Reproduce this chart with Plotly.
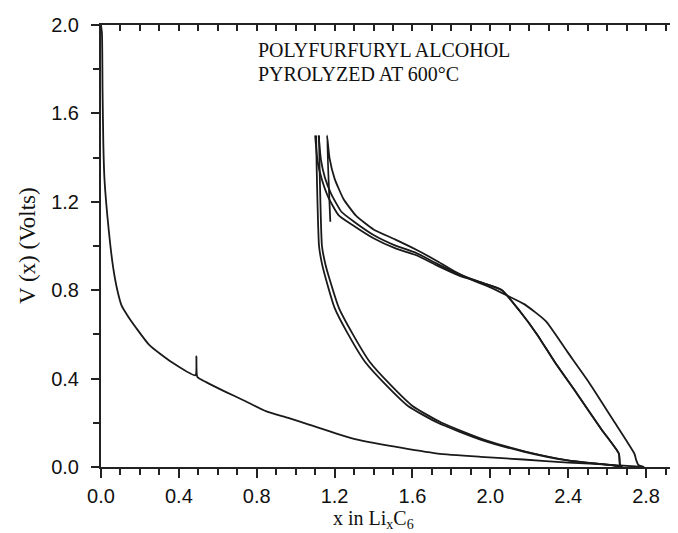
import plotly.graph_objects as go

# ---- data ----
d1_x = [0.0, 0.005, 0.008, 0.012, 0.018, 0.04, 0.062, 0.084, 0.106, 0.14, 0.18, 0.25, 0.36, 0.485,
        0.49, 0.495, 0.54, 0.64, 0.737, 0.847, 0.958, 1.068, 1.29, 1.51, 1.73, 1.95, 2.17, 2.4, 2.62, 2.79]
d1_v = [2.0, 1.96, 1.7, 1.46, 1.3, 1.07, 0.906, 0.8, 0.73, 0.68, 0.63, 0.55, 0.476, 0.415,
        0.5, 0.407, 0.384, 0.34, 0.30, 0.253, 0.223, 0.192, 0.13, 0.092, 0.061, 0.046, 0.034, 0.02, 0.01, 0.0]

c1_x = [2.79, 2.76, 2.75, 2.74, 2.64, 2.506, 2.395, 2.285, 2.174, 2.086, 1.997, 1.909, 1.82, 1.73,
        1.62, 1.51, 1.40, 1.31, 1.245, 1.20, 1.174, 1.161, 1.178]
c1_v = [0.0, 0.01, 0.03, 0.06, 0.2, 0.384, 0.522, 0.66, 0.737, 0.776, 0.814, 0.845, 0.883, 0.93,
        0.983, 1.03, 1.075, 1.137, 1.214, 1.305, 1.398, 1.5, 1.11]

d2_x = [1.105, 1.108, 1.112, 1.12, 1.135, 1.157, 1.2, 1.27, 1.356, 1.466, 1.577, 1.73, 1.953, 2.174,
        2.395, 2.62, 2.68]
d2_v = [1.5, 1.35, 1.2, 1.0, 0.92, 0.845, 0.72, 0.6, 0.476, 0.369, 0.276, 0.2, 0.123, 0.069,
        0.03, 0.008, 0.0]

c2_x = [2.67, 2.665, 2.66, 2.572, 2.44, 2.33, 2.24, 2.15, 2.06, 1.97, 1.84, 1.73, 1.62, 1.51, 1.40,
        1.29, 1.22, 1.168, 1.135, 1.113, 1.10]
c2_v = [0.0, 0.015, 0.061, 0.169, 0.338, 0.476, 0.6, 0.707, 0.8, 0.83, 0.866, 0.91, 0.958, 0.99, 1.035,
        1.096, 1.14, 1.22, 1.30, 1.38, 1.5]

d3_x = [1.12, 1.123, 1.127, 1.135, 1.152, 1.176, 1.222, 1.294, 1.38, 1.49, 1.60, 1.75, 1.97, 2.185,
        2.40, 2.62, 2.67]
d3_v = [1.5, 1.35, 1.2, 1.0, 0.92, 0.845, 0.72, 0.6, 0.476, 0.369, 0.276, 0.2, 0.123, 0.069,
        0.03, 0.008, 0.0]

c3_x = [2.67, 2.665, 2.66, 2.572, 2.44, 2.33, 2.24, 2.15, 2.06, 1.97, 1.84, 1.73, 1.62, 1.51, 1.40,
        1.30, 1.235, 1.183, 1.15, 1.13, 1.118]
c3_v = [0.0, 0.015, 0.061, 0.169, 0.338, 0.476, 0.6, 0.707, 0.8, 0.83, 0.872, 0.918, 0.968, 1.003, 1.05,
        1.11, 1.155, 1.235, 1.31, 1.39, 1.5]

x_ticks = [0.0, 0.4, 0.8, 1.2, 1.6, 2.0, 2.4, 2.8]
x_ticktext = ["0.0", "0.4", "0.8", "1.2", "1.6", "2.0", "2.4", "2.8"]
y_ticks = [0.0, 0.4, 0.8, 1.2, 1.6, 2.0]
y_ticktext = ["0.0", "0.4", "0.8", "1.2", "1.6", "2.0"]

series = [(d1_x, d1_v), (c1_x, c1_v), (d2_x, d2_v), (c2_x, c2_v), (d3_x, d3_v), (c3_x, c3_v)]

fig = go.Figure()
for xs, vs in series:
    fig.add_trace(go.Scatter(x=xs, y=vs, mode="lines",
                             line=dict(color="#1a1a1a", width=1.8, shape="spline", smoothing=0.5),
                             showlegend=False, hoverinfo="skip"))
# dummy trace to materialize mirror axes
fig.add_trace(go.Scatter(x=[None], y=[None], xaxis="x2", yaxis="y2", showlegend=False))

tickfont = dict(family="Liberation Sans, Arial, sans-serif", size=20, color="#111")
serif = "Liberation Serif, Times New Roman, serif"

fig.update_layout(
    width=678, height=533,
    margin=dict(l=93, r=1, t=17, b=74),
    paper_bgcolor="white", plot_bgcolor="white",
    xaxis=dict(range=[0, 3.0], showgrid=False, zeroline=False, showline=True, linecolor="#222",
               linewidth=2, ticks="outside", ticklen=9, tickwidth=2, tickcolor="#222",
               tickvals=x_ticks, ticktext=x_ticktext, tickfont=tickfont, ticklabelstandoff=1,
               minor=dict(dtick=0.1, tick0=0, ticks="outside", ticklen=6, tickwidth=2, tickcolor="#222",
                          showgrid=False)),
    xaxis2=dict(range=[0, 3.0], overlaying="x", side="top", showgrid=False, zeroline=False,
                showline=True, linecolor="#222", linewidth=2, ticks="inside", ticklen=6, tickwidth=2,
                tickcolor="#222", dtick=0.1, tick0=0, showticklabels=False),
    yaxis=dict(range=[0, 2.0], showgrid=False, zeroline=False, showline=True, linecolor="#222",
               linewidth=2, ticks="outside", ticklen=8, tickwidth=2, tickcolor="#222",
               tickvals=y_ticks, ticktext=y_ticktext, tickfont=tickfont, ticklabelstandoff=8,
               minor=dict(dtick=0.2, tick0=0, ticks="outside", ticklen=6, tickwidth=2, tickcolor="#222",
                          showgrid=False)),
    yaxis2=dict(range=[0, 2.0], overlaying="y", side="right", showgrid=False, zeroline=False,
                showline=True, linecolor="#222", linewidth=2, ticks="inside", ticklen=5, tickwidth=2,
                tickcolor="#222", dtick=0.2, tick0=0, showticklabels=False),
)

fig.add_annotation(x=0.796, y=1.885, xref="x", yref="y", text="POLYFURFURYL ALCOHOL",
                   showarrow=False, xanchor="left", yanchor="middle",
                   font=dict(family=serif, size=20, color="#111"))
fig.add_annotation(x=0.796, y=1.778, xref="x", yref="y", text="PYROLYZED AT 600°C",
                   showarrow=False, xanchor="left", yanchor="middle",
                   font=dict(family=serif, size=20, color="#111"))
fig.add_annotation(x=-74 / 584, y=0.5, xref="paper", yref="paper", text="V (x) (Volts)",
                   textangle=-90, showarrow=False, xanchor="center", yanchor="middle",
                   font=dict(family=serif, size=23, color="#111"))
fig.add_annotation(x=(365 - 93) / 584, y=-67 / 442, xref="paper", yref="paper",
                   text="x in Li<sub>x</sub>C<sub>6</sub>",
                   showarrow=False, xanchor="center", yanchor="bottom",
                   font=dict(family=serif, size=20, color="#111"))

fig.write_html("out.html")
